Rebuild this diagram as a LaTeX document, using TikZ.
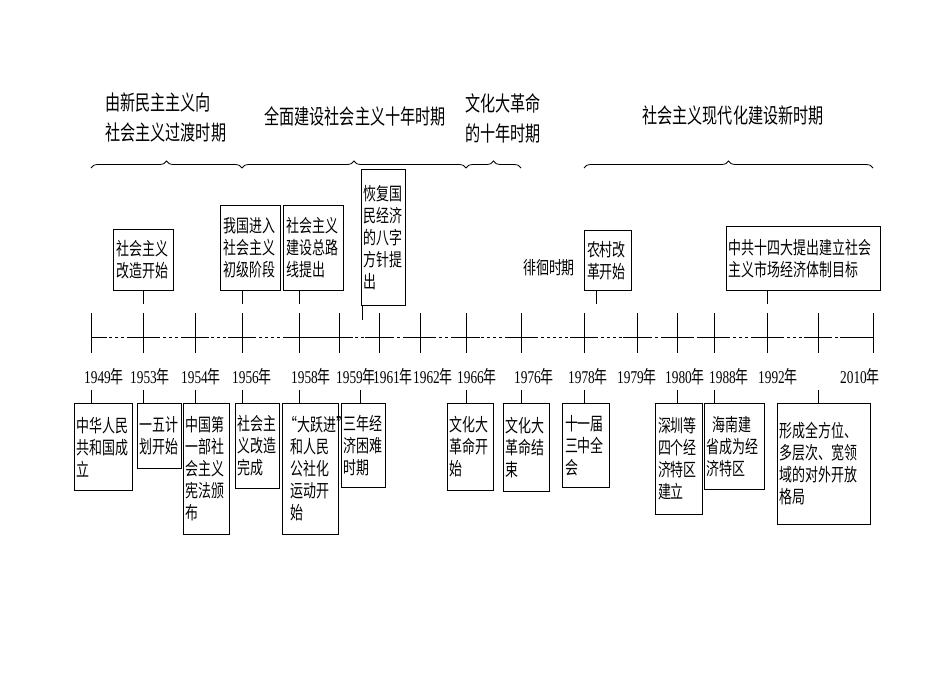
\documentclass[tikz,border=0pt]{standalone}
\usepackage{fontspec}
\setmainfont{Noto Sans CJK SC}[FakeStretch=0.72]
\newfontfamily\lat{Liberation Serif}[FakeStretch=0.74]
\usetikzlibrary{decorations.pathreplacing}
\begin{document}
\begin{tikzpicture}[x=1pt,y=-1pt,
  box/.style={draw,line width=1pt,anchor=north west,inner sep=2pt,align=left,font=\fontsize{18}{22}\selectfont},
  yr/.style={font=\fontsize{18}{20}\selectfont,inner sep=0pt},
  ttl/.style={font=\fontsize{21}{30}\selectfont,inner sep=0pt},
  con/.style={line width=0.6pt},
  brc/.style={decorate,decoration={brace,amplitude=7pt},line width=0.8pt}]
\fill[white] (0,0) rectangle (950,673);
% titles
\node[ttl,align=left,anchor=west] (T1) at (105,118) {由新民主主义向\\社会主义过渡时期};
\node[ttl] (T2) at (355,116) {全面建设社会主义十年时期};
\node[ttl,align=left,anchor=west] (T3) at (465,118) {文化大革命\\的十年时期};
\node[ttl] (T4) at (733,116) {社会主义现代化建设新时期};
% braces
\draw[brc] (91,168) -- (242,168);
\draw[brc] (242,168) -- (466,168);
\draw[brc] (466,168) -- (521,168);
\draw[brc] (584,168) -- (873,168);
% axis
\draw[line width=1pt,dash pattern=on 3pt off 3pt] (91,337) -- (873,337);
\foreach \x in {143,195,242,299,339,379,420,466,521,584,637,677,714,767,818}{
  \draw[line width=1pt] (\x-14,337) -- (\x+14,337);
}
\foreach \x in {91,143,195,242,299,339,379,420,466,521,584,637,677,714,767,818,873}{
  \draw[line width=0.6pt] (\x,313) -- (\x,353);
}
\draw[line width=1pt] (91,337) -- (107,337) (299,337) -- (339,337) (840,337) -- (873,337);
% named tick coordinates
\foreach \n/\x in {a/91,b/143,c/195,d/242,e/299,f/360,g/362,h/466,i/521,j/584,k/596,l/677,m/714,n/767,o/818}{
  \coordinate (t\n) at (\x,337);
}
% years
\foreach \x/\y in {104/1949,150/1953,201/1954,252/1956,311/1958,356/1959,393/1961,433/1962,477/1966,534/1976,588/1978,637/1979,685/1980,729/1988,778/1992}{
  \node[yr] (y\y) at (\x,377) {{\lat \y}年};
}
\node[yr] (y2010) at (860,377) {{\lat 2010}年};
% top boxes
\node[box,minimum width=60,minimum height=61,text width=54] (A) at (113,229) {社会主义\\改造开始};
\node[box,minimum width=60,minimum height=85,text width=54] (B) at (220,205) {我国进入\\社会主义\\初级阶段};
\node[box,minimum width=60,minimum height=85,text width=54] (C) at (283,205) {社会主义\\建设总路\\线提出};
\node[box,minimum width=44,minimum height=136,text width=40] (D) at (361,169) {恢复国\\民经济\\的八字\\方针提\\出};
\node[box,minimum width=47,minimum height=60,text width=42] (E) at (584,230) {农村改\\革开始};
\node[box,minimum width=154,minimum height=64,text width=150] (F) at (726,226) {中共十四大提出建立社会\\主义市场经济体制目标};
\node[font=\fontsize{18}{20}\selectfont,inner sep=0pt] (P) at (549,268) {徘徊时期};
\draw[con] (A.south -| tb) -- ++(0,13);
\draw[con] (B.south -| td) -- ++(0,13);
\draw[con] (C.south -| te) -- ++(0,13);
\draw[con] (D.south -| tg) -- ++(0,14);
\draw[con] (E.south -| tk) -- ++(0,13);
\draw[con] (F.south -| tn) -- ++(0,13);
% bottom boxes
\node[box,minimum width=58,minimum height=87,text width=54] (b1) at (74,403) {中华人民\\共和国成\\立};
\node[box,minimum width=43,minimum height=65,text width=40] (b2) at (137,403) {一五计\\划开始};
\node[box,minimum width=46,minimum height=131,text width=42] (b3) at (183,403) {中国第\\一部社\\会主义\\宪法颁\\布};
\node[box,minimum width=44,minimum height=85,text width=40] (b4) at (235,403) {社会主\\义改造\\完成};
\node[box,minimum width=56,minimum height=131,text width=52] (b5) at (282,403) {“大跃进”\\\ 和人民\\\ 公社化\\\ 运动开\\\ 始};
\node[box,minimum width=44,minimum height=84,text width=40] (b6) at (341,403) {三年经\\济困难\\时期};
\node[box,minimum width=46,minimum height=87,text width=42] (b7) at (447,403) {文化大\\革命开\\始};
\node[box,minimum width=46,minimum height=88,text width=42] (b8) at (503,403) {文化大\\革命结\\束};
\node[box,minimum width=47,minimum height=84,text width=42] (b9) at (562,403) {十一届\\三中全\\会};
\node[box,minimum width=47,minimum height=111,text width=42] (b10) at (655,403) {深圳等\\四个经\\济特区\\建立};
\node[box,minimum width=60,minimum height=86,text width=56] (b11) at (704,403) {\ 海南建\\省成为经\\济特区};
\node[box,minimum width=93,minimum height=121,text width=89] (b12) at (777,403) {形成全方位、\\多层次、宽领\\域的对外开放\\格局};
\foreach \b/\t in {b1/ta,b2/tb,b3/tc,b4/td,b5/te,b6/tf,b7/th,b8/ti,b9/tj,b10/tl,b11/tm,b12/to}{
  \draw[con] (\b.north -| \t) -- ++(0,-13);
}
\end{tikzpicture}
\end{document}
